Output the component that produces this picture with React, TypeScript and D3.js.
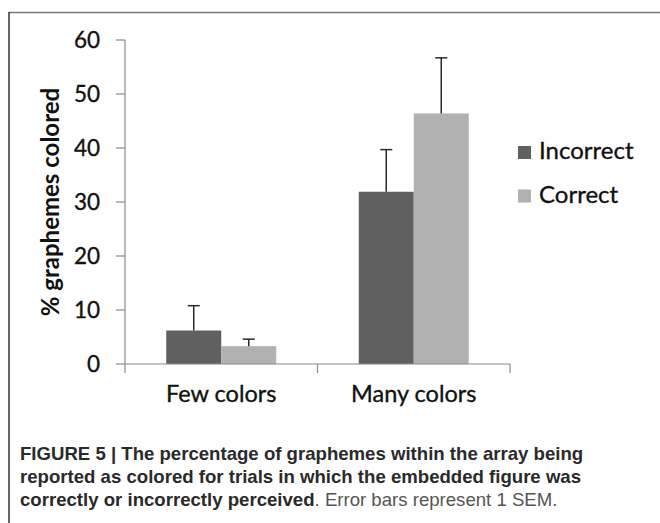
import React from "react";
import * as d3 from "d3";

const categories = ["Few colors", "Many colors"];
const seriesNames = ["Incorrect", "Correct"];
const incorrectValues = [6.2, 31.9];
const correctValues = [3.3, 46.4];
const incorrectSEM = [4.6, 7.8];
const correctSEM = [1.3, 10.3];
const yTicks = [0, 10, 20, 30, 40, 50, 60];
const seriesColors = ["#606060", "#b1b1b1"];

const W = 660;
const H = 523;
const chartFont = "Lato, 'Open Sans', sans-serif";
const capFont = "'Liberation Sans', Arial, sans-serif";

export default function App() {
  const y = d3.scaleLinear().domain([0, 60]).range([364, 40]);
  const x0 = d3.scaleBand<string>().domain(categories).range([125, 510]).paddingInner(0).paddingOuter(0);
  const x1 = d3
    .scaleBand<string>()
    .domain(seriesNames)
    .range([0, x0.bandwidth()])
    .paddingInner(0)
    .paddingOuter(0.75);

  const values = [incorrectValues, correctValues];
  const sems = [incorrectSEM, correctSEM];

  const bars: any[] = [];
  categories.forEach((c, ci) => {
    seriesNames.forEach((s, si) => {
      bars.push({ c, s, v: values[si][ci], e: sems[si][ci], color: seriesColors[si] });
    });
  });

  const edges = [...categories.map((c) => x0(c)!), x0.range()[1]];
  const heavy = { stroke: "#111", strokeWidth: 0.35 };

  return (
    <svg width={W} height={H} style={{ position: "absolute", left: 0, top: 0 }}>
      <rect x={0} y={0} width={W} height={H} fill="#fff" />
      {/* frame */}
      <line x1={9} x2={W} y1={12.5} y2={12.5} stroke="#777" strokeWidth={1.5} />
      <line x1={9} x2={9} y1={12} y2={H} stroke="#333" strokeWidth={1.5} />

      {/* bars */}
      {bars.map((b, i) => {
        const bx = x0(b.c)! + x1(b.s)!;
        return (
          <rect key={"b" + i} x={bx} y={y(b.v)} width={x1.bandwidth()} height={y(0) - y(b.v)} fill={b.color} />
        );
      })}
      {/* error bars */}
      {bars.map((b, i) => {
        const cx = x0(b.c)! + x1(b.s)! + x1.bandwidth() / 2;
        const top = y(b.v + b.e);
        return (
          <g key={"e" + i} stroke="#2a2a2a" strokeWidth={1.5}>
            <line x1={cx} x2={cx} y1={y(b.v)} y2={top} />
            <line x1={cx - 6} x2={cx + 6} y1={top} y2={top} />
          </g>
        );
      })}

      {/* y axis */}
      <line x1={125} x2={125} y1={y(60)} y2={y(0)} stroke="#8a8a8a" strokeWidth={1.2} />
      {yTicks.map((t) => (
        <g key={"yt" + t}>
          <line x1={116} x2={125} y1={y(t)} y2={y(t)} stroke="#8a8a8a" strokeWidth={1.2} />
          <text x={100} y={y(t)} dy="0.36em" textAnchor="end" fontFamily={chartFont} fontSize={22.5} fill="#111" {...heavy}>
            {t}
          </text>
        </g>
      ))}
      <text
        transform={`translate(59, ${(y(0) + y(60)) / 2}) rotate(-90)`}
        textAnchor="middle"
        fontFamily={chartFont}
        fontWeight="bold"
        fontSize={24}
        fill="#111"
      >
        % graphemes colored
      </text>

      {/* x axis */}
      <line x1={125} x2={510} y1={y(0)} y2={y(0)} stroke="#8a8a8a" strokeWidth={1.2} />
      {edges.map((e, i) => (
        <line key={"xt" + i} x1={e} x2={e} y1={y(0)} y2={373} stroke="#8a8a8a" strokeWidth={1.2} />
      ))}
      {categories.map((c) => (
        <text
          key={"xl" + c}
          x={x0(c)! + x0.bandwidth() / 2}
          y={402}
          textAnchor="middle"
          fontFamily={chartFont}
          fontSize={23.5}
          fill="#111"
          {...heavy}
        >
          {c}
        </text>
      ))}

      {/* legend */}
      {seriesNames.map((s, i) => (
        <g key={"lg" + s} transform={`translate(518, ${146 + i * 43.5})`}>
          <rect x={0} y={0} width={13} height={13} fill={seriesColors[i]} />
          <text x={21} y={13} fontFamily={chartFont} fontSize={24} fill="#111" {...heavy}>
            {s}
          </text>
        </g>
      ))}

      {/* caption */}
      <g fontFamily={capFont} fontSize={18.6} fill="#2a2a2a">
        <text x={20} y={460} fontWeight="bold">
          FIGURE 5 | The percentage of graphemes within the array being
        </text>
        <text x={20} y={483} fontWeight="bold">
          reported as colored for trials in which the embedded figure was
        </text>
        <text x={20} y={506}>
          <tspan fontWeight="bold">correctly or incorrectly perceived</tspan>
          <tspan fill="#555">. Error bars represent 1 SEM.</tspan>
        </text>
      </g>
    </svg>
  );
}
